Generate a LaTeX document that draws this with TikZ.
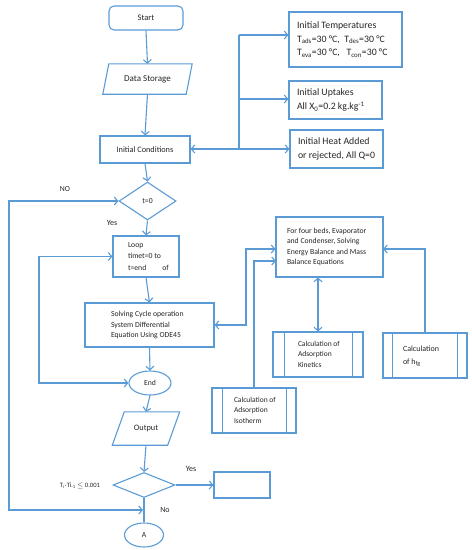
\documentclass[tikz,border=0pt]{standalone}
\usepackage{fontspec}
\setmainfont{Carlito}
\usetikzlibrary{shapes.geometric,arrows.meta}
\definecolor{lineblue}{RGB}{91,155,213}
\definecolor{txt}{RGB}{38,38,38}
\newcommand\lbox[3]{\makebox[#1][l]{\hspace*{#2}\begin{tabular}{@{}l@{}}#3\end{tabular}}}
\begin{document}
\begin{tikzpicture}[x=1pt,y=-1pt,
  every node/.style={text=txt,font=\fontsize{7.7}{10.5}\selectfont},
  bx/.style={draw=lineblue,line width=1.1pt,rectangle,inner sep=0pt,fill=white},
  rbx/.style={bx,rounded corners=5pt},
  plain/.style={rectangle,inner sep=0pt},
  dia/.style={draw=lineblue,line width=1.1pt,diamond,inner sep=0pt},
  ell/.style={draw=lineblue,line width=1.1pt,ellipse,inner sep=0pt},
  conn/.style={draw=lineblue,line width=1.1pt},
  arr/.style={conn,-{Straight Barb[length=3.5pt,width=8pt]}},
  darr/.style={conn,{Straight Barb[length=3.5pt,width=8pt]}-{Straight Barb[length=3.5pt,width=8pt]}},
  lbl/.style={inner sep=0pt}
]
\useasboundingbox (0,0) rectangle (472,550);

% main column
\node[rbx,minimum width=74pt,minimum height=24pt,font=\fontsize{8.5}{9}\selectfont] (start) at (146,18) {Start};
\node[plain,minimum width=83pt,minimum height=30pt,font=\fontsize{9}{10}\selectfont] (ds) at (147.5,79) {Data Storage};
\draw[conn,line join=miter] ([xshift=3pt]ds.north west) -- ([xshift=3pt]ds.north east) -- ([xshift=-3pt]ds.south east) -- ([xshift=-3pt]ds.south west) -- cycle;
\node[bx,minimum width=90pt,minimum height=27pt,font=\fontsize{8.3}{9}\selectfont] (ic) at (145,149.5) {Initial Conditions};

% right initial boxes
\node[bx,minimum width=113pt,minimum height=55pt,font=\fontsize{9.8}{13.5}\selectfont] (temp) at (345.5,39.5)
  {\lbox{113pt}{8pt}{Initial Temperatures\\T\textsubscript{ads}=30 °C,\ \ T\textsubscript{des}=30 °C\\T\textsubscript{eva}=30 °C,\ \ \ T\textsubscript{con}=30 °C}};
\node[bx,minimum width=93pt,minimum height=38pt,font=\fontsize{9.8}{14}\selectfont] (upt) at (335.5,100)
  {\lbox{93pt}{8pt}{Initial Uptakes\\All X\textsubscript{0}=0.2 kg.kg\textsuperscript{-1}}};
\node[bx,minimum width=93pt,minimum height=38pt,font=\fontsize{9.8}{14}\selectfont] (heat) at (336.5,149)
  {\lbox{93pt}{8pt}{Initial Heat Added\\or rejected, All Q=0}};

\coordinate (tT) at (239,35);
\coordinate (tU) at (239,99);
\coordinate (tB) at (239,149);
\draw[conn] (tT) -- (tB);
\draw[arr] (tT) -- (temp.west |- tT);
\draw[arr] (tU) -- (upt.west |- tU);
\draw[arr] (tB) -- (heat.west |- tB);
\draw[arr] (tB) -- (ic.east |- tB);

\node[dia,minimum width=57pt,minimum height=38pt] (d1) at (147.5,201) {t=0};
\node[bx,minimum width=66pt,minimum height=41pt,font=\fontsize{7.7}{11.5}\selectfont] (loop) at (146,256.5)
  {\lbox{66pt}{15pt}{Loop\\timet=0 to\\t=end\hspace{16pt}of}};
\node[bx,minimum width=129pt,minimum height=44pt] (solve) at (149.5,325)
  {\lbox{129pt}{26pt}{Solving Cycle operation\\System Differential\\Equation Using ODE45}};
\node[ell,minimum width=42pt,minimum height=24pt] (end) at (150,383) {End};
\node[plain,minimum width=55pt,minimum height=33pt,font=\fontsize{8.3}{9}\selectfont] (out) at (146,428.5) {Output};
\draw[conn,line join=miter] ([xshift=6pt]out.north west) -- ([xshift=6pt]out.north east) -- ([xshift=-6pt]out.south east) -- ([xshift=-6pt]out.south west) -- cycle;
\node[dia,minimum width=62pt,minimum height=25pt] (d2) at (144,485) {};
\node[bx,minimum width=56pt,minimum height=26pt] (res) at (242,485) {};
\node[ell,minimum width=39pt,minimum height=24pt] (A) at (144,535) {A};

% right process boxes
\node[bx,minimum width=107pt,minimum height=60pt] (forb) at (329.5,247)
  {\lbox{107pt}{11pt}{For four beds, Evaporator\\and Condenser, Solving\\Energy Balance and Mass\\Balance Equations}};
\node[bx,minimum width=90pt,minimum height=45pt,font=\fontsize{7.5}{10.5}\selectfont] (kin) at (318,354.5)
  {\lbox{90pt}{25pt}{Calculation of\\Adsorption\\Kinetics}};
\node[bx,minimum width=84pt,minimum height=45pt,font=\fontsize{7.5}{10.5}\selectfont] (iso) at (254,410.5)
  {\lbox{84pt}{22pt}{Calculation of\\Adsorption\\Isotherm}};
\node[bx,minimum width=84pt,minimum height=45pt,font=\fontsize{8}{13}\selectfont] (hfg) at (425,355.5)
  {\lbox{84pt}{20pt}{Calculation\\of h\textsubscript{fg}}};

\draw[conn] ([xshift=12pt]kin.north west) -- ([xshift=12pt]kin.south west);
\draw[conn] ([xshift=-11pt]kin.north east) -- ([xshift=-11pt]kin.south east);
\draw[conn] ([xshift=11pt]iso.north west) -- ([xshift=11pt]iso.south west);
\draw[conn] ([xshift=-10pt]iso.north east) -- ([xshift=-10pt]iso.south east);
\draw[conn] ([xshift=10pt]hfg.north west) -- ([xshift=10pt]hfg.south west);
\draw[conn] ([xshift=-10pt]hfg.north east) -- ([xshift=-10pt]hfg.south east);

% main flow connectors
\draw[arr] (start.south) -- (ds.north);
\draw[arr] (ds.south) -- (ic.north);
\draw[arr] (ic.south) -- (d1.north);
\draw[arr] (d1.south) -- (loop.north);
\draw[arr] (loop.south) -- (solve.north);
\draw[arr] (solve.south) -- (end.north);
\draw[arr] (end.south) -- (out.north);
\draw[arr] (out.south) -- (d2.north);
\draw[arr] (d2.east) -- (res.west);
\draw[conn] (d2.south) -- (A.north);

% loops
\coordinate (noL) at (9,510);
\coordinate (noJ) at (143,510);
\draw[darr] (d1.west) -| (noL) -- (noJ);
\coordinate (lbL) at (39,383);
\draw[darr] (loop.west) -| (lbL) -- (end.west);

% right connectors
\coordinate (c1) at (246,249);
\draw[darr] (solve.east) -| (c1) -- (forb.west |- c1);
\coordinate (c2) at (276,261);
\draw[arr] (iso.north) |- (c2);
\draw[darr] (kin.north) -- (kin.north |- forb.south);
\coordinate (c3) at (383,249);
\draw[arr] (hfg.north) |- (c3);

% labels
\node[lbl] (lno) at (65,189) {NO};
\node[lbl,font=\fontsize{8}{9}\selectfont] (lyes1) at (112,223) {Yes};
\node[lbl,font=\fontsize{8}{9}\selectfont] (lyes2) at (191,469) {Yes};
\node[lbl,font=\fontsize{8}{9}\selectfont] (lno2) at (165,510) {No};
\node[lbl,font=\fontsize{6.6}{8}\selectfont] (lcrit) at (80,486) {T\textsubscript{i}-Ti\textsubscript{-1} $\leq$ 0.001};
\end{tikzpicture}
\end{document}
